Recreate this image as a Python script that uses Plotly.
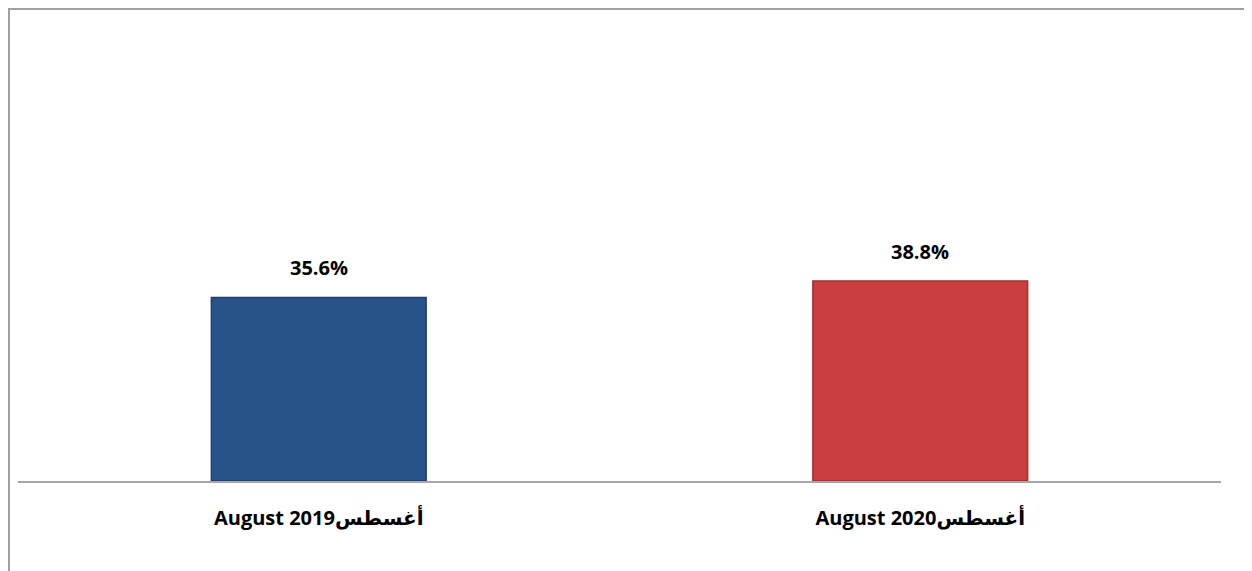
import plotly.graph_objects as go

# data
categories = ["August 2019أغسطس", "August 2020أغسطس"]
values = [35.6, 38.8]
value_labels = ["35.6%", "38.8%"]
bar_colors = ["#28528A", "#CB3E3E"]
edge_colors = ["#1E3F6C", "#9E2F2F"]

font_family = "Open Sans, DejaVu Sans, sans-serif"

fig = go.Figure()

fig.add_trace(go.Bar(
    x=categories,
    y=values,
    marker=dict(color=bar_colors, line=dict(color=edge_colors, width=1.5)),
    hoverinfo="skip",
))

# value labels above the bars
for cat, val, lab in zip(categories, values, value_labels):
    fig.add_annotation(
        x=cat, y=val, text=lab, showarrow=False,
        yanchor="bottom", yshift=14,
        font=dict(family=font_family, size=20, color="#000000", weight="bold"),
    )

# outer frame of the chart (top and left edges visible)
fig.add_shape(
    type="rect", xref="paper", yref="paper",
    x0=-0.0075, x1=1.05, y0=-0.3, y1=1.0172,
    line=dict(color="#A0A0A0", width=2), fillcolor="rgba(0,0,0,0)",
    layer="below",
)

fig.update_layout(
    width=1252,
    height=571,
    margin=dict(l=10, r=39, t=9, b=98),
    paper_bgcolor="#FFFFFF",
    plot_bgcolor="#FFFFFF",
    showlegend=False,
    bargap=0.643,
    font=dict(family=font_family, size=20, color="#000000"),
    xaxis=dict(
        showline=True, linecolor="#A6A6A6", linewidth=1.5,
        ticks="", showgrid=False, zeroline=False,
        tickfont=dict(family=font_family, size=20, color="#000000", weight="bold"),
        ticklabelstandoff=18,
    ),
    yaxis=dict(
        range=[0, 90], visible=False, showgrid=False, zeroline=False,
    ),
)

fig.write_html("out.html")
